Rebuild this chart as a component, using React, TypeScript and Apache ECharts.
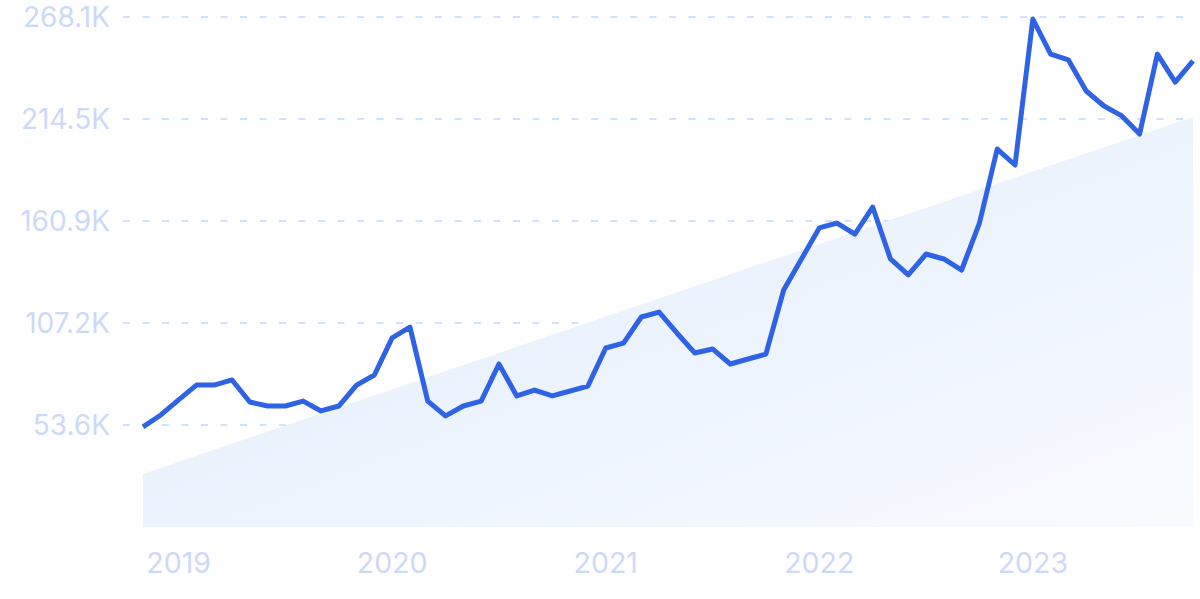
import React, { useEffect, useRef } from "react";
import * as echarts from "echarts";

// Monthly values (thousands), Nov 2018 .. Oct 2023
const values: number[] = [
  52.6, 58.9, 66.8, 74.6, 74.6, 77.3, 65.7, 63.6, 63.6, 66.2, 61.0, 63.6,
  74.6, 79.9, 99.4, 105.1, 66.2, 58.4, 63.6, 66.2, 85.7, 68.9, 72.0, 68.9,
  71.5, 74.1, 94.1, 96.7, 110.4, 113.0, 102.0, 91.5, 93.6, 85.7, 88.3, 90.9,
  124.6, 140.9, 157.2, 159.8, 154.0, 168.2, 140.9, 132.5, 143.5, 140.9, 135.1, 159.8,
  198.7, 190.3, 267.0, 248.6, 245.5, 229.2, 221.3, 216.1, 206.6, 248.6, 233.9, 245.0,
];

// Trend line endpoints (thousands), at first and last month
const trendStart = 27.9;
const trendEnd = 215.5;

// Year tick labels and the month index of each January
const yearLabels = ["2019", "2020", "2021", "2022", "2023"];
const yearIndex = [2, 14, 26, 38, 50];

const yMax = 268.1;
const yStep = 53.62;

export default function App() {
  const ref = useRef<HTMLDivElement>(null);

  useEffect(() => {
    if (!ref.current) return;
    const chart = echarts.init(ref.current, undefined, { renderer: "svg" });
    const lastIdx = values.length - 1;
    const labelColor = "#cdd9f6";

    chart.setOption({
      animation: false,
      backgroundColor: "#ffffff",
      textStyle: { fontFamily: "Inter" },
      grid: { left: 123, right: 7, top: 17, bottom: 72, containLabel: false },
      xAxis: [
        {
          type: "value",
          min: -1.124,
          max: lastIdx,
          axisLine: { show: false },
          axisTick: { show: false },
          splitLine: { show: false },
          axisLabel: {
            customValues: yearIndex,
            formatter: (v: number) => {
              const k = yearIndex.indexOf(Math.round(v));
              return k >= 0 ? yearLabels[k] : "";
            },
            color: labelColor,
            fontSize: 28.5,
            fontFamily: "Inter",
            margin: 21,
          },
        },
      ],
      yAxis: {
        type: "value",
        min: 0,
        max: yMax,
        interval: yStep,
        axisLine: { show: false },
        axisTick: { show: false },
        axisLabel: {
          formatter: (v: number) => (v === 0 ? "" : v.toFixed(1) + "K"),
          color: labelColor,
          fontSize: 28,
          fontFamily: "Inter",
          margin: 13,
        },
        splitLine: {
          show: true,
          showMinLine: false,
          lineStyle: { color: "#d0e1fb", width: 2, type: [7, 12.5] },
        },
      },
      series: [
        {
          type: "line",
          name: "trend",
          data: [
            [0, trendStart],
            [lastIdx, trendEnd],
          ],
          symbol: "none",
          lineStyle: { width: 0, opacity: 0 },
          areaStyle: {
            opacity: 1,
            color: new echarts.graphic.LinearGradient(0, 0, 1, 1, [
              { offset: 0, color: "#deebfb" },
              { offset: 1, color: "#f9fbff" },
            ]),
          },
          z: 1,
          silent: true,
        },
        {
          type: "line",
          name: "value",
          data: values.map((v, i) => [i, v]),
          symbol: "none",
          lineStyle: { color: "#2f63e6", width: 5, join: "round" },
          z: 3,
        },
      ],
    });
    return () => chart.dispose();
  }, []);

  return (
    <div
      ref={ref}
      style={{ position: "fixed", left: 0, top: 0, width: 1200, height: 599 }}
    />
  );
}
